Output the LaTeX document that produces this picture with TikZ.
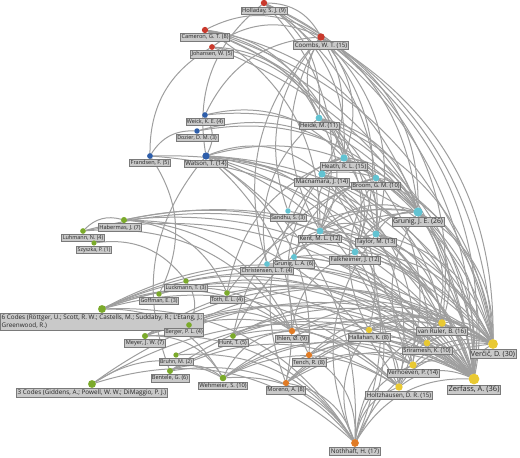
\documentclass[tikz,border=0pt]{standalone}
\usepackage{fontspec}
\setmainfont{Open Sans}
\usetikzlibrary{positioning,backgrounds}
\definecolor{netRed}{HTML}{C9392C}
\definecolor{netBlue}{HTML}{2E5EAA}
\definecolor{netCyan}{HTML}{62C3D2}
\definecolor{netGreen}{HTML}{7BAA2B}
\definecolor{netOrange}{HTML}{E07B25}
\definecolor{netYellow}{HTML}{E9C932}
\definecolor{netGray}{HTML}{9E9E9E}
\definecolor{labFill}{HTML}{C9C9C9}
\definecolor{labDraw}{HTML}{7A7A7A}

\begin{document}
\begin{tikzpicture}[x=1pt,y=-1pt,
      dot/.style={circle, fill=#1, inner sep=0pt, outer sep=0pt},
      lab/.style={draw=labDraw, fill=labFill, line width=0.6pt, inner sep=1.1pt,
                  outer sep=0pt, text=black!85, align=left},
      link/.style={draw=netGray, line width=1pt, bend left=30}]
    \useasboundingbox (0,0) rectangle (520,458);
    % authors: name/x/y/colour/count/label shift/label
    \foreach \n/\x/\y/\c/\d/\dx/\t in {
        hol/264/3/netRed/9/0/{Holladay, S. J. (9)},
        cam/205/30/netRed/8/0/{Cameron, G. T. (8)},
        joh/212/47/netRed/5/0/{Johansen, W. (5)},
        coo/321/37/netRed/15/0/{Coombs, W. T. (15)},
        wei/205/115/netBlue/4/0/{Weick, K. E. (4)},
        doz/197/131/netBlue/3/0/{Dozier, D. M. (3)},
        fra/150/156/netBlue/5/0/{Frandsen, F. (5)},
        wat/206/156/netBlue/14/0/{Watson, T. (14)},
        hei/319/118/netCyan/11/0/{Heide, M. (11)},
        hea/344/158/netCyan/15/0/{Heath, R. L. (15)},
        mac/322/174/netCyan/14/0/{Macnamara, J. (14)},
        bro/376/178/netCyan/10/0/{Broom, G. M. (10)},
        hab/124/220/netGreen/7/-4/{Habermas, J. (7)},
        luh/83/231/netGreen/4/0/{Luhmann, N. (4)},
        szy/94/243/netGreen/1/0/{Szyszka, P. (1)},
        san/288/211/netCyan/3/0/{Sandhu, S. (3)},
        ken/320/231/netCyan/12/0/{Kent, M. L. (12)},
        tay/376/234/netCyan/13/0/{Taylor, M. (13)},
        gje/418/212/netCyan/26/0/{Grunig, J. E. (26)},
        fal/355/252/netCyan/12/0/{Falkheimer, J. (12)},
        gla/294/257/netCyan/6/0/{Grunig, L. A. (6)},
        chr/267/264/netCyan/4/0/{Christensen, L. T. (4)},
        luc/186/281/netGreen/3/0/{Luckmann, T. (3)},
        gof/159/294/netGreen/3/0/{Goffman, E. (3)},
        tot/227/293/netGreen/4/0/{Toth, E. L. (4)},
        six/102/309/netGreen/18/0/{6 Codes (Röttger, U.; Scott, R. W.; Castells, M.; Suddaby, R.; L'Etang, J.;\\Greenwood, R.)},
        ber/189/325/netGreen/4/-5/{Berger, P. L. (4)},
        mey/145/336/netGreen/7/0/{Meyer, J. W. (7)},
        hun/233/336/netGreen/5/0/{Hunt, T. (5)},
        bru/176/355/netGreen/2/0/{Bruhn, M. (2)},
        ben/170/371/netGreen/6/0/{Bentele, G. (6)},
        thr/92/384/netGreen/18/0/{3 Codes (Giddens, A.; Powell, W. W.; DiMaggio, P. J.)},
        weh/223/378/netGreen/10/0/{Wehmeier, S. (10)},
        ihl/292/331/netOrange/9/0/{Ihlen, Ø. (9)},
        ten/309/355/netOrange/8/0/{Tench, R. (8)},
        mor/286/383/netOrange/8/0/{Moreno, A. (8)},
        not/355/443/netOrange/17/0/{Nothhaft, H. (17)},
        hal/369/330/netYellow/8/0/{Hallahan, K. (8)},
        van/442/323/netYellow/16/0/{van Ruler, B. (16)},
        sri/427/343/netYellow/10/0/{Sriramesh, K. (10)},
        ver/493/344/netYellow/30/0/{Verčič, D. (30)},
        vho/413/365/netYellow/14/0/{Verhoeven, P. (14)},
        zer/474/379/netYellow/36/0/{Zerfass, A. (36)},
        hoz/399/387/netYellow/15/0/{Holtzhausen, D. R. (15)}} {
      \pgfmathsetmacro\ds{5+0.16*\d}
      \pgfmathsetmacro\fs{5.2+0.064*\d}
      \pgfmathsetmacro\fb{1.3*\fs}
      \node[dot=\c, minimum size=\ds pt] (\n) at (\x,\y) {};
      \node[lab, font=\fontsize{\fs}{\fb}\selectfont, below=0.6pt of \n, xshift=\dx pt] (\n-l) {\t};
    }
    % co-citation links, drawn behind
    \begin{scope}[on background layer]
      \foreach \a/\bs in {
          luh/{hab,zer,ver,ihl}, thr/{zer,ver,not,weh}, szy/{luc},
          six/{zer,ver,not,ihl,hoz,vho,van,weh,sri}, hab/{tot,zer,ver,hoz,ihl,van},
          mey/{zer,ver,not,weh,hoz,van}, fra/{doz,joh,zer,ver,gof}, gof/{zer,ihl},
          ben/{wat,zer,ver,not,weh,hoz}, bru/{zer,not}, luc/{ber,zer}, ber/{zer,ihl,ver},
          doz/{gje,bro}, cam/{coo,hea,hei,ken,gje,ver,zer,tay}, wei/{wat,coo,hea,gje},
          wat/{hol,mac,gje,zer,ver,vho,van,hoz,mor,ten,not,fal}, joh/{coo,hea,hei,zer},
          weh/{zer,ver,not,ihl,hoz,vho}, tot/{hea,gje,zer}, hun/{bro,gje,zer,ver,hoz},
          hol/{coo,hea,hei,ken,tay,gje,ver,zer}, chr/{coo,fal,hei,zer},
          mor/{ten,zer,ver,vho,not,sri,mac}, san/{coo,hea,zer}, ihl/{fal,zer,ver},
          gla/{ken,gje,bro,zer,ver,sri}, ten/{mac,zer,ver,vho,not,van},
          hei/{coo,hea,ken,tay,gje,zer,ver,fal}, ken/{coo,hea,bro,tay,gje,zer,ver,fal},
          coo/{hea,mac,tay,gje,zer,ver,fal,van}, mac/{hea,gje,zer,ver,van,vho,not,hoz,bro,hal},
          hea/{bro,tay,gje,zer,ver,fal}, fal/{tay,gje,zer,ver,not},
          not/{hal,van,vho,hoz,tay,zer,ver}, hal/{bro,zer,ver,van,hoz,sri},
          bro/{gje,zer,ver,hoz}, tay/{gje,zer,ver,van,sri}, hoz/{vho,zer,ver,van},
          vho/{gje,sri,van,zer,ver}, gje/{sri,van,zer,ver}, sri/{van,zer,ver},
          van/{zer,ver}, zer/{ver}} {
        \foreach \b in \bs {\draw[link] (\a) to (\b);}
      }
    \end{scope}
  \end{tikzpicture}
\end{document}
